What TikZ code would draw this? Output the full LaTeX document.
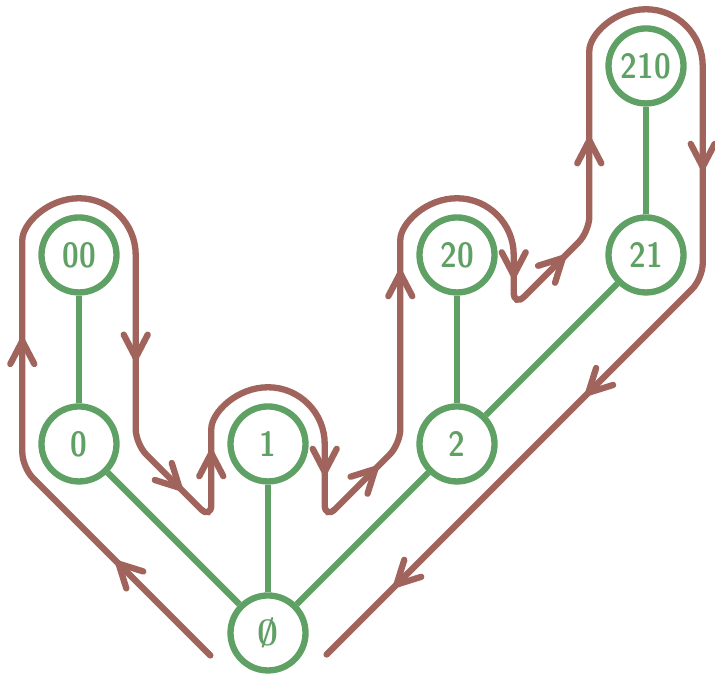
\documentclass[tikz,border=0pt]{standalone}
\usepackage{bm}
\usetikzlibrary{arrows.meta,positioning,decorations.markings}
\definecolor{treegreen}{HTML}{5FA064}
\definecolor{walkbrown}{HTML}{A0645C}

\begin{document}
\begin{tikzpicture}[
x=3.78cm, y=3.78cm,
vertex/.style={circle, draw=treegreen, line width=3.6pt, minimum size=1.5cm, inner sep=0pt, text=treegreen, font=\sffamily\fontseries{sbc}\fontsize{20}{24}\selectfont},
edge/.style={draw=treegreen, line width=3.6pt},
walk/.style={draw=walkbrown, line width=3.6pt, rounded corners=0.3cm, line cap=round},
walkarrow/.style={color=walkbrown, line width=3.6pt, postaction={decorate, decoration={markings, mark=at position #1 with {\arrow{Straight Barb[length=4.6mm, width=4.8mm, round]}}}}}
]
\useasboundingbox (-0.418,-0.2275) rectangle (3.365,3.349);
% tree
\node[vertex] (nroot) at (1,0) {$\bm{\emptyset}$};
\node[vertex] (n0) at (0,1) {0};
\node[vertex] (n1) at (1,1) {1};
\node[vertex] (n2) at (2,1) {2};
\node[vertex] (n00) at (0,2) {00};
\node[vertex] (n20) at (2,2) {20};
\node[vertex] (n21) at (3,2) {21};
\node[vertex] (n210) at (3,3) {210};
\draw[edge] (nroot) -- (n0);
\draw[edge] (nroot) -- (n1);
\draw[edge] (nroot) -- (n2);
\draw[edge] (n0) -- (n00);
\draw[edge] (n2) -- (n20);
\draw[edge] (n2) -- (n21);
\draw[edge] (n21) -- (n210);
% walk around the tree
\coordinate (w0) at (0.695,-0.119);
\coordinate (w1) at (-0.3,0.876);
\coordinate (w2) at (-0.3,2);
\coordinate (w3) at (0.3,2);
\coordinate (w4) at (0.3,1);
\coordinate (w5) at (0.7,0.6);
\coordinate (w6) at (0.7,1);
\coordinate (w7) at (1.3,1);
\coordinate (w8) at (1.3,0.6);
\coordinate (w9) at (1.7,1);
\coordinate (w10) at (1.7,2);
\coordinate (w11) at (2.3,2);
\coordinate (w12) at (2.3,1.724);
\coordinate (w13) at (2.7,2.124);
\coordinate (w14) at (2.7,3);
\coordinate (w15) at (3.3,3);
\coordinate (w16) at (3.3,1.876);
\coordinate (w17) at (1.31,-0.114);
\draw[walk] (w0) -- (w1) -- (w2) [sharp corners] arc[start angle=180, end angle=0, radius=0.3]
  [rounded corners=0.3cm] -- (w4) -- (w5) -- (w6) [sharp corners] arc[start angle=180, end angle=0, radius=0.3]
  [rounded corners=0.3cm] -- (w8) -- (w9) -- (w10) [sharp corners] arc[start angle=180, end angle=0, radius=0.3]
  [rounded corners=0.3cm] -- (w12) -- (w13) -- (w14) [sharp corners] arc[start angle=180, end angle=0, radius=0.3]
  [rounded corners=0.3cm] -- (w16) -- (w17);
\path[walkarrow=0.5] (w0) -- (w1);
\path[walkarrow=0.61] (w1) -- (w2);
\path[walkarrow=0.56] (w3) -- (w4);
\path[walkarrow=0.61] (w4) -- (w5);
\path[walkarrow=0.92] (w5) -- (w6);
\path[walkarrow=0.41] (w7) -- (w8);
\path[walkarrow=0.70] (w8) -- (w9);
\path[walkarrow=0.92] (w9) -- (w10);
\path[walkarrow=0.45] (w11) -- (w12);
\path[walkarrow=0.68] (w12) -- (w13);
\path[walkarrow=0.57] (w13) -- (w14);
\path[walkarrow=0.49] (w15) -- (w16);
\path[walkarrow=0.31, walkarrow=0.82] (w16) -- (w17);
\end{tikzpicture}
\end{document}
